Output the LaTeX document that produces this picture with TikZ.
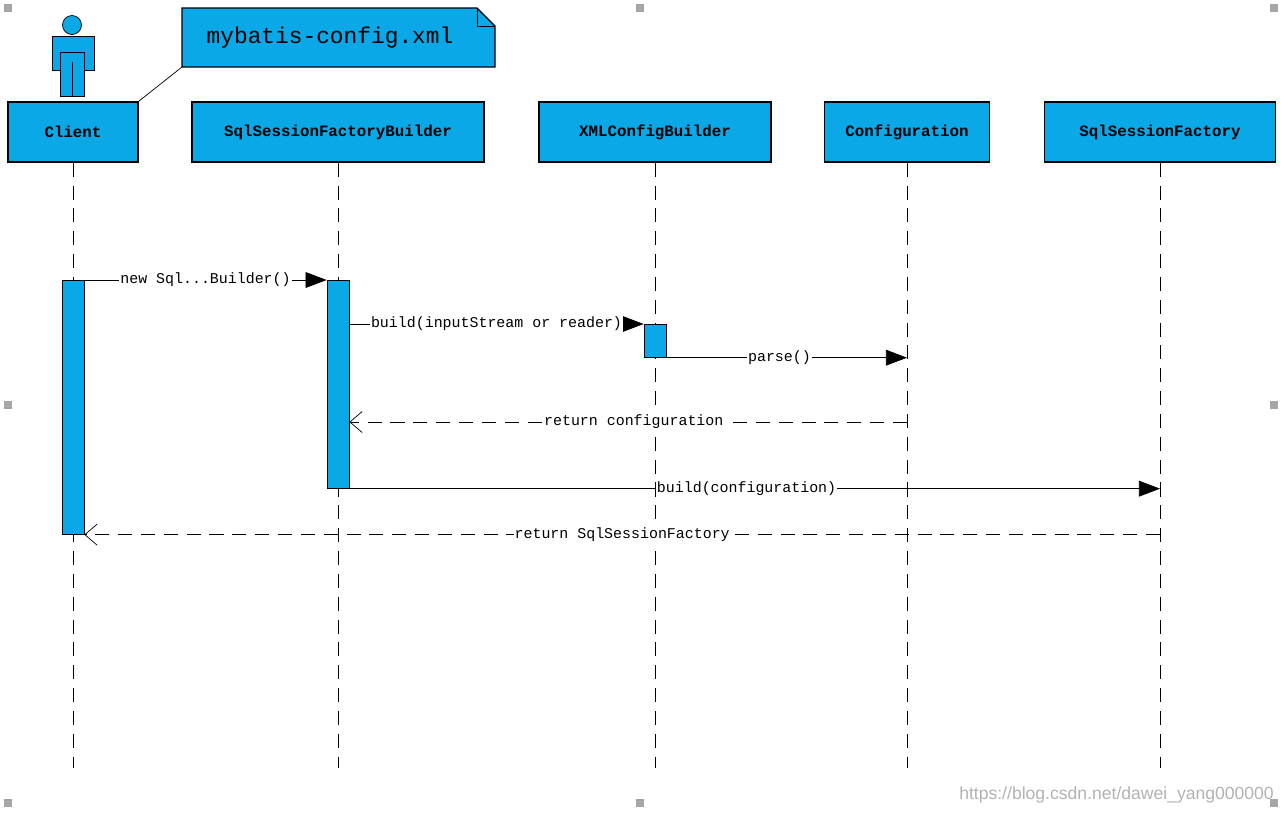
\documentclass[tikz,border=0pt]{standalone}
\usepackage{fontspec}
\setmainfont{Liberation Sans}
\newfontfamily\monofont{Liberation Mono}
\usetikzlibrary{positioning}
\usetikzlibrary{shapes}
\usetikzlibrary{arrows.meta}
\definecolor{umlblue}{RGB}{10,168,230}
\begin{document}
\begin{tikzpicture}[x=0.02cm,y=-0.02cm,
kopf/.style={draw,thick,fill=umlblue,minimum height=1.2cm,font=\monofont\bfseries\fontsize{9}{9}\selectfont},
lebenslinie/.style={draw,dashed,dash pattern=on 8pt off 5pt},
aktiv/.style={draw,fill=umlblue},
nachricht/.style={fill=white,inner sep=0.5pt,font=\monofont\fontsize{8.5}{8.5}\selectfont},
voll/.style={-{Triangle[length=12pt,width=9pt]}},
zurueck/.style={dashed,dash pattern=on 8pt off 5pt,-{Straight Barb[length=7pt,width=12pt]}},
griff/.style={fill=gray!70,minimum size=4pt,inner sep=0pt}
]
\useasboundingbox (0,0) rectangle (1282,812);
%-- Kopfe
\node[kopf,minimum width=2.6cm](client) at (73,132){Client};
\node[kopf,minimum width=5.84cm](builder) at (338,132){SqlSessionFactoryBuilder};
\node[kopf,minimum width=4.64cm](xml) at (655,132){XMLConfigBuilder};
\node[kopf,minimum width=3.3cm](conf) at (907,132){Configuration};
\node[kopf,minimum width=4.62cm](factory) at (1160,132){SqlSessionFactory};
%-- Akteur
\node[draw,circle,fill=umlblue,minimum size=0.38cm,inner sep=0pt](kopfk) at (72,25){};
\draw[fill=umlblue] (52,36) rectangle (94,70);
\draw[fill=umlblue] (60,52) rectangle (84,96);
\draw (72,62) -- (72,96) (60,52) -- (60,70) (84,52) -- (84,70);
%-- Notiz
\draw[thick,fill=umlblue] (182,8) -- (477,8) -- (495,26) -- (495,67) -- (182,67) -- cycle;
\draw (477,8) -- (477,26) -- (495,26);
\node[font=\monofont\fontsize{13}{13}\selectfont](notiz) at (330,38){mybatis-config.xml};
\coordinate (nfuss) at (182,67);
\draw (nfuss) -- (client.north east);
%-- Lebenslinien
\foreach \k in {client,builder,xml,conf,factory}{
  \coordinate (\k-ende) at (\k.south |- 0,768);
  \draw[lebenslinie] (\k.south) -- (\k-ende);
}
%-- Aktivierungen
\node[aktiv,minimum width=0.44cm,minimum height=5.08cm,inner sep=0pt,anchor=north](aclient) at (73,280){};
\node[aktiv,minimum width=0.44cm,minimum height=4.16cm,inner sep=0pt,anchor=north](abuilder) at (338,280){};
\node[aktiv,minimum width=0.44cm,minimum height=0.66cm,inner sep=0pt,anchor=north](axml) at (655,324){};
%-- Nachrichten
\draw[voll] (aclient.north east) -- node[nachricht]{new Sql...Builder()} (abuilder.north west);
\draw[voll] (abuilder.north east |- axml.north) coordinate (b1) -- node[nachricht]{build(inputStream or reader)} (axml.north west);
\coordinate (c1) at (conf.south |- axml.south);
\draw[voll] (axml.south east) -- node[nachricht,pos=0.47]{parse()} (c1);
\coordinate (c2) at (conf.south |- 0,422);
\coordinate (b2) at (abuilder.east |- 0,422);
\draw[zurueck] (c2) -- node[nachricht,pos=0.49]{return configuration} (b2);
\coordinate (f1) at (factory.south |- abuilder.south);
\draw[voll] (abuilder.south east) -- node[nachricht,pos=0.49]{build(configuration)} (f1);
\coordinate (f2) at (factory.south |- aclient.south);
\draw[zurueck] (f2) -- node[nachricht,pos=0.5]{return SqlSessionFactory} (aclient.south east);
%-- Griffe
\foreach \p in {(8,8),(640,8),(1274,8),(8,405),(1274,405),(8,803),(640,803),(1274,803)}
  \node[griff] at \p {};
\node[text=gray!60,font=\fontsize{10}{10}\selectfont,anchor=east](wasser) at (1280,795){https://blog.csdn.net/dawei\_yang000000};
\end{tikzpicture}
\end{document}
